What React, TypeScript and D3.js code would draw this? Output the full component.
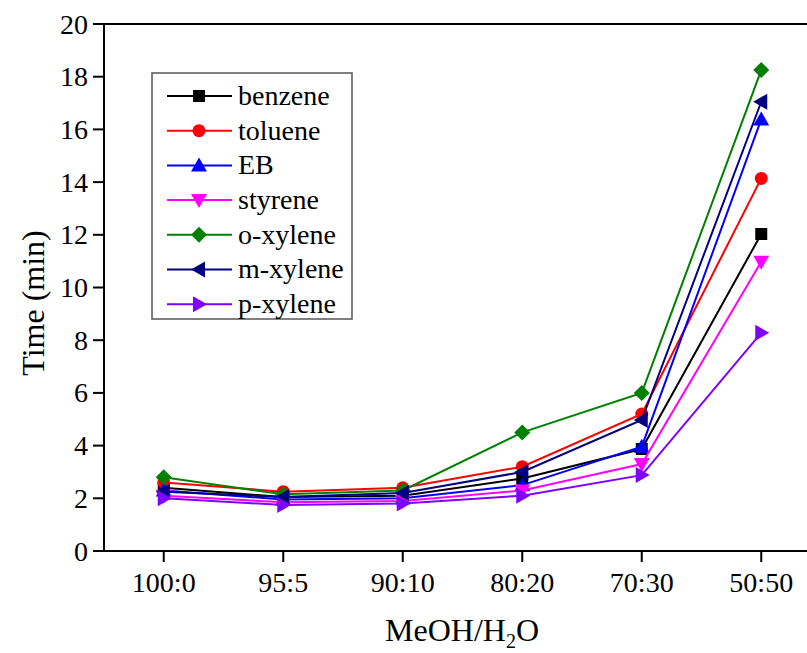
import React from "react";
import * as d3 from "d3";

const categories = ["100:0", "95:5", "90:10", "80:20", "70:30", "50:50"];
const seriesNames = ["benzene", "toluene", "EB", "styrene", "o-xylene", "m-xylene", "p-xylene"];
const benzene = [2.4, 2.05, 2.1, 2.75, 3.87, 12.03];
const toluene = [2.6, 2.25, 2.4, 3.2, 5.2, 14.14];
const eb = [2.3, 1.95, 2.0, 2.5, 3.96, 16.38];
const styrene = [2.1, 1.85, 1.9, 2.3, 3.3, 10.98];
const oxylene = [2.8, 2.15, 2.3, 4.5, 6.0, 18.25];
const mxylene = [2.25, 2.05, 2.2, 3.0, 4.97, 17.05];
const pxylene = [2.0, 1.75, 1.8, 2.1, 2.88, 8.28];
const seriesValues = [benzene, toluene, eb, styrene, oxylene, mxylene, pxylene];
const colors = ["#000000", "#ff0000", "#0000ff", "#ff00ff", "#008000", "#000080", "#8000ff"];
const markers = ["square", "circle", "triUp", "triDown", "diamond", "triLeft", "triRight"];
const yTicks = [0, 2, 4, 6, 8, 10, 12, 14, 16, 18, 20];

const W = 807, H = 653;
const left = 104, right = 821, top = 24, bottom = 551;
const FONT = '"Liberation Serif", "Times New Roman", "DejaVu Serif", serif';

function Marker({ type, x, y, color }: { type: string; x: number; y: number; color: string }) {
  const s = 7;
  let d = "";
  switch (type) {
    case "square":
      return <rect x={x - 6} y={y - 6} width={12} height={12} fill={color} />;
    case "circle":
      return <circle cx={x} cy={y} r={6.5} fill={color} />;
    case "triUp":
      d = `M${x},${y - s - 1}L${x + s + 1},${y + s - 1}L${x - s - 1},${y + s - 1}Z`;
      break;
    case "triDown":
      d = `M${x},${y + s + 1}L${x + s + 1},${y - s + 1}L${x - s - 1},${y - s + 1}Z`;
      break;
    case "triLeft":
      d = `M${x - s - 1},${y}L${x + s - 1},${y - s - 1}L${x + s - 1},${y + s + 1}Z`;
      break;
    case "triRight":
      d = `M${x + s + 1},${y}L${x - s + 1},${y - s - 1}L${x - s + 1},${y + s + 1}Z`;
      break;
    case "diamond":
      d = `M${x},${y - 8}L${x + 8},${y}L${x},${y + 8}L${x - 8},${y}Z`;
      break;
  }
  return <path d={d} fill={color} />;
}

export default function App() {
  const x = d3.scaleLinear().domain([-0.5, 5.5]).range([left, right]);
  const y = d3.scaleLinear().domain([0, 20]).range([bottom, top]);
  const line = d3
    .line<number>()
    .x((_, i) => x(i))
    .y((v) => y(v));
  const legX = 152, legY = 73, legW = 200, legH = 246, legRow = 34.7;
  const ts = { fontFamily: FONT };
  return (
    <svg width={W} height={H} style={{ position: "absolute", left: 0, top: 0, background: "#fff", fontFamily: FONT }}>
      <rect width={W} height={H} fill="#fff" />
      {seriesValues.map((vals, si) => (
        <g key={seriesNames[si]}>
          <path d={line(vals) || ""} fill="none" stroke={colors[si]} strokeWidth={2} />
          {vals.map((v, i) => (
            <Marker key={i} type={markers[si]} x={x(i)} y={y(v)} color={colors[si]} />
          ))}
        </g>
      ))}
      <line x1={left} x2={W} y1={top} y2={top} stroke="#000" strokeWidth={2} />
      <line x1={left} x2={left} y1={top - 1} y2={bottom + 1} stroke="#000" strokeWidth={2} />
      <line x1={left - 11} x2={W} y1={bottom} y2={bottom} stroke="#000" strokeWidth={2} />
      {yTicks.map((t) => (
        <g key={t}>
          <line x1={left - 11} x2={left} y1={y(t)} y2={y(t)} stroke="#000" strokeWidth={2} />
          <text x={left - 16} y={y(t)} dy="0.34em" textAnchor="end" fontSize={28} fill="#000" style={ts}>
            {t}
          </text>
        </g>
      ))}
      {categories.map((c, i) => (
        <g key={c}>
          <line x1={x(i)} x2={x(i)} y1={bottom} y2={bottom + 11} stroke="#000" strokeWidth={2} />
          <text x={x(i)} y={bottom + 41} textAnchor="middle" fontSize={28} fill="#000" style={ts}>
            {c}
          </text>
        </g>
      ))}
      <text x={462} y={641} textAnchor="middle" fontSize={32} fill="#000" style={ts}>
        MeOH/H<tspan fontSize={20} dy={7}>2</tspan>
        <tspan dy={-7}>O</tspan>
      </text>
      <text transform={`translate(44,303) rotate(-90)`} textAnchor="middle" fontSize={32} fill="#000" style={ts}>
        Time (min)
      </text>
      <rect x={legX} y={legY} width={legW} height={legH} fill="#fff" stroke="#555" strokeWidth={1.5} />
      {seriesNames.map((n, i) => {
        const ly = legY + 23 + i * legRow;
        return (
          <g key={n}>
            <line x1={167} x2={232} y1={ly} y2={ly} stroke={colors[i]} strokeWidth={2} />
            <Marker type={markers[i]} x={199} y={ly} color={colors[i]} />
            <text x={238} y={ly} dy="0.32em" fontSize={28} fill="#000" style={ts}>
              {n}
            </text>
          </g>
        );
      })}
    </svg>
  );
}
